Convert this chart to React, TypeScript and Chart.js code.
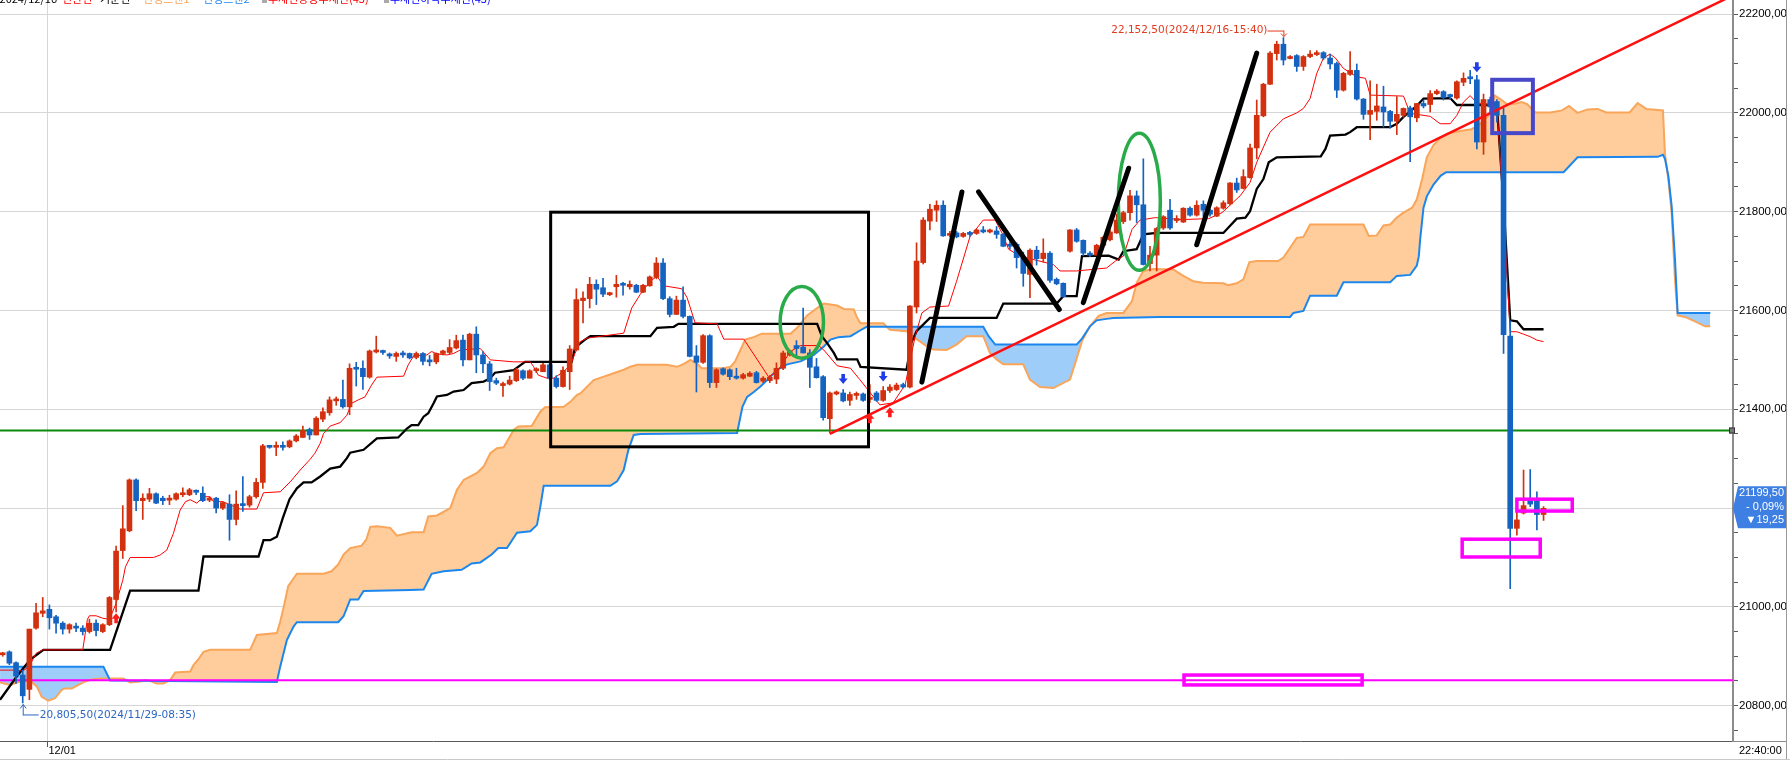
import React, { useEffect, useRef } from 'react';
import { Chart, registerables } from 'chart.js';

Chart.register(...registerables);

// ---------- candle data (index = bar number) ----------
const OPEN = [
  20903,20909,20887,20862,20833,20957,20987,20995,20980,20967,
  20955,20960,20957,20950,20967,20950,20964,21015,21114,21154,
  21257,21215,21218,21229,21220,21216,21218,21227,21227,21234,
  21230,21216,21220,21200,21208,21177,21208,21206,21223,21252,
  21326,21323,21326,21324,21336,21343,21359,21348,21380,21393,
  21417,21420,21405,21483,21483,21465,21516,21518,21512,21507,
  21513,21513,21505,21513,21499,21496,21513,21515,21524,21540,
  21500,21552,21510,21492,21458,21448,21451,21458,21478,21463,
  21478,21476,21490,21463,21446,21476,21520,21620,21624,21653,
  21646,21632,21648,21655,21648,21651,21637,21650,21667,21696,
  21624,21592,21621,21588,21508,21495,21549,21454,21482,21480,
  21467,21463,21467,21474,21457,21458,21461,21483,21510,21529,
  21526,21514,21486,21466,21381,21431,21433,21418,21428,21431,
  21420,21433,21418,21438,21440,21450,21445,21607,21697,21781,
  21803,21813,21752,21757,21750,21756,21756,21763,21759,21761,
  21754,21734,21734,21707,21673,21722,21705,21716,21663,21655,
  21720,21763,21742,21716,21712,21732,21743,21757,21780,21798,
  21832,21814,21695,21712,21767,21803,21782,21779,21807,21793,
  21815,21803,21791,21807,21816,21858,21847,21869,21929,21994,
  22058,22120,22139,22110,22116,22094,22114,22118,22122,22111,
  22100,22046,22078,22086,22028,21997,22003,22012,22003,21983,
  21995,22010,21990,22019,22017,22039,22043,22035,22030,22062,
  22071,22067,21941,22027,22023,21995,21548,21159,21190,21215,
  21215,21187,
];
const HIGH = [
  20908,20911,20889,20872,20955,21007,21019,21004,20983,20970,
  20966,20967,20962,20975,20974,20966,21021,21123,21205,21259,
  21259,21229,21240,21231,21224,21226,21231,21241,21240,21237,
  21243,21222,21222,21213,21227,21235,21264,21226,21260,21329,
  21327,21334,21334,21338,21349,21366,21362,21385,21403,21425,
  21425,21459,21492,21495,21498,21520,21548,21520,21514,21516,
  21518,21514,21516,21515,21509,21514,21520,21541,21550,21550,
  21554,21567,21517,21497,21463,21455,21467,21483,21480,21480,
  21484,21493,21493,21468,21486,21529,21644,21638,21667,21662,
  21665,21637,21671,21657,21660,21653,21653,21670,21707,21705,
  21628,21629,21648,21589,21529,21551,21551,21482,21484,21482,
  21483,21473,21476,21477,21466,21468,21494,21518,21520,21539,
  21605,21521,21503,21468,21435,21437,21440,21435,21435,21433,
  21450,21436,21446,21450,21453,21453,21610,21737,21788,21815,
  21822,21822,21760,21760,21758,21760,21765,21770,21765,21770,
  21756,21739,21737,21718,21725,21730,21745,21719,21666,21656,
  21764,21766,21743,21719,21734,21750,21764,21795,21801,21843,
  21842,21907,21730,21768,21792,21825,21792,21808,21810,21822,
  21822,21806,21810,21822,21859,21868,21885,21937,22026,22060,
  22124,22145,22152.5,22116,22118,22116,22126,22126,22124,22119,
  22103,22082,22124,22099,22029,22065,22058,22054,22005,22033,
  22010,22014,22019,22026,22045,22047,22045,22038,22065,22081,
  22086,22076,22038,22032,22027,22010,21579,21193,21277,21278,
  21233,21203,
];
const LOW = [
  20900,20883,20845,20805.5,20812,20955,20980,20955,20947,20945,
  20947,20950,20943,20947,20941,20948,20962,20990,21098,21152,
  21195,21177,21213,21209,21207,21207,21216,21223,21225,21227,
  21213,21213,21190,21197,21135,21166,21193,21202,21220,21240,
  21321,21306,21317,21322,21334,21343,21339,21348,21375,21388,
  21408,21402,21389,21447,21440,21463,21514,21511,21503,21497,
  21505,21502,21502,21490,21488,21492,21510,21512,21522,21488,
  21500,21474,21474,21438,21450,21426,21449,21456,21460,21463,
  21474,21476,21460,21443,21445,21440,21520,21575,21605,21612,
  21628,21630,21627,21631,21643,21636,21636,21649,21664,21622,
  21587,21592,21585,21506,21435,21493,21444,21444,21469,21460,
  21461,21461,21466,21453,21454,21454,21452,21480,21508,21508,
  21514,21444,21463,21378,21352,21429,21415,21408,21420,21416,
  21414,21416,21416,21434,21438,21443,21443,21595,21694,21763,
  21780,21750,21749,21747,21748,21750,21754,21757,21757,21746,
  21729,21724,21686,21649,21626,21692,21698,21657,21652,21626,
  21718,21738,21711,21709,21711,21730,21741,21756,21776,21783,
  21778,21692,21680,21680,21764,21764,21778,21778,21791,21791,
  21791,21791,21790,21805,21814,21839,21846,21868,21907,21992,
  22057,22107,22097,22109,22084,22086,22112,22116,22108,22089,
  22031,22044,22076,22026,21987,21946,21985,21971,21969,21956,
  21991,21901,21982,22010,22002,22037,22026,22028,22028,22055,
  22059,21927,21916,22000,21981,21513,21037,21145,21188,21203,
  21156,21175,
];
const CLOSE = [
  20906,20886,20860,20820,20955,20988,20992,20978,20967,20955,
  20964,20957,20950,20967,20952,20964,21019,21113,21158,21257,
  21215,21220,21229,21210,21215,21219,21229,21230,21237,21232,
  21215,21219,21200,21211,21177,21208,21205,21223,21252,21326,
  21323,21326,21323,21336,21346,21357,21348,21382,21395,21419,
  21420,21405,21483,21481,21466,21518,21518,21515,21508,21513,
  21510,21504,21513,21497,21496,21513,21518,21525,21539,21500,
  21552,21510,21492,21456,21453,21452,21459,21480,21463,21478,
  21481,21490,21463,21446,21479,21522,21622,21625,21653,21643,
  21633,21636,21653,21651,21653,21637,21651,21668,21696,21624,
  21592,21621,21588,21507,21495,21549,21454,21480,21471,21466,
  21463,21470,21473,21454,21463,21465,21483,21514,21517,21523,
  21514,21485,21464,21383,21433,21435,21417,21430,21431,21418,
  21424,21418,21438,21445,21449,21445,21609,21700,21783,21805,
  21813,21751,21755,21749,21756,21754,21763,21759,21762,21754,
  21730,21730,21707,21675,21722,21705,21716,21661,21654,21628,
  21763,21740,21716,21712,21732,21748,21759,21783,21798,21832,
  21814,21693,21712,21766,21790,21767,21786,21807,21793,21813,
  21803,21795,21808,21818,21858,21844,21871,21929,21995,22058,
  22121,22139,22107,22114,22094,22114,22119,22122,22111,22099,
  22046,22080,22086,22028,21997,22005,22014,22002,21983,21997,
  22009,21992,22019,22014,22039,22044,22031,22033,22063,22070,
  22069,21941,22027,22012,21995,21551,21159,21176,21205,21208,
  21187,21199.5,
];

// ---------- Ichimoku lines, read as [bar index, price] vertices ----------
const TENKAN: [number, number][] = [
  [-0.4,20872],[2,20872],[3,20870],[4,20880],[5,20906],[6,20913],[12,20913],[12.7,20975],[13,20982],[14,20982],
  [15,20977],[16,20975],[17,21007],[18,21054],[18.4,21081],[19.1,21100],[22.6,21100],[23.6,21105],[24.6,21115],
  [25.6,21149],[26.6,21196],[27.4,21213],[28.1,21217],[29.1,21210],[30.1,21223],[31.1,21223],[31.6,21213],[33,21213],
  [35.6,21198],[38.1,21198],[39.1,21231],[41.6,21233],[43.1,21253],[44.6,21277],[46.1,21299],[46.8,21311],[47.6,21331],
  [48.1,21351],[49.1,21366],[50.6,21373],[51.6,21388],[52.3,21412],[53.3,21419],[54.3,21425],[55.3,21449],[56.1,21465],
  [60.1,21467],[60.8,21490],[61.6,21508],[63.6,21510],[64.3,21517],[65.1,21512],[66.6,21510],[67.6,21513],[68.6,21520],
  [71.6,21523],[73.1,21500],[76.6,21496],[79.1,21496],[79.6,21486],[80.3,21469],[81.6,21463],[82.6,21463],[84.1,21476],
  [85.1,21490],[85.8,21513],[86.6,21537],[87.6,21544],[93.1,21554],[94.3,21605],[95.6,21633],[97.1,21660],[98.1,21669],
  [99.1,21650],[101.8,21644],[102.6,21626],[103.8,21575],[107.1,21573],[108.1,21542],[111.1,21542],[114.8,21466],
  [116.1,21476],[118.1,21517],[119.6,21529],[122.3,21529],[123.1,21520],[125.1,21488],[127.1,21483],[128.5,21460],
  [131.5,21409],[133.5,21413],[135.3,21450],[136.8,21548],[137.8,21595],[139,21607],[141.8,21609],[143,21659],
  [145,21749],[147,21783],[148.8,21783],[149.8,21757],[150.8,21724],[152.5,21710],[157.5,21693],[158.5,21680],
  [161,21680],[165.5,21686],[166.8,21700],[168,21710],[169.3,21764],[170.5,21783],[172.8,21788],[176.8,21784],
  [180.8,21786],[182.8,21798],[185.5,21832],[187,21859],[188,21900],[190,21961],[192,21988],[194,22000],[195,22009],
  [196,22029],[197,22080],[198,22111],[199,22119],[199.8,22111],[201,22090],[203,22073],[204.3,22070],[205,22036],
  [210,22034],[211,21999],[214,21993],[215.5,21978],[217,21978],[218,21995],[219,22022],[220,22035],[221,22020],
  [224,22016],[225,21800],[226,21557],[227,21557],[228,21552],[229,21547],[230,21540],[231,21537],
];
const KIJUN: [number, number][] = [
  [-0.4,20812],[2.1,20859],[4.1,20893],[5.1,20903],[6.1,20913],[16.1,20913],[19.1,21033],[29.35,21033],[30.1,21102],
  [38.35,21102],[39.1,21135],[40.1,21135],[41.1,21142],[42,21180],[43,21218],[44.1,21240],[45.1,21252],[46.3,21252],
  [47.6,21264],[49.1,21280],[50.6,21284],[51.6,21301],[52.1,21312],[54.1,21318],[56.1,21341],[59.3,21343],[60.6,21361],
  [61.3,21368],[62.3,21368],[63.1,21385],[63.8,21392],[64.6,21412],[65.1,21426],[66.6,21429],[67.6,21436],[69.1,21439],
  [70.3,21453],[72.1,21456],[73.1,21463],[73.8,21474],[76.6,21479],[78.3,21496],[85.3,21496],[85.8,21525],[87.3,21541],
  [88.1,21548],[97.1,21548],[98.1,21565],[100.6,21567],[101.3,21573],[122.1,21573],[122.8,21548],[123.6,21534],
  [124.6,21514],[125.1,21501],[128.1,21501],[128.6,21486],[135.5,21480],[136.2,21534],[137,21558],[139,21585],
  [149,21585],[150,21614],[158,21614],[159,21629],[161,21629],[161.8,21710],[165.8,21711],[167.3,21703],[168,21720],
  [170,21724],[171,21754],[173,21757],[183,21757],[185,21786],[186.3,21788],[187,21801],[188,21846],[189,21866],
  [189.8,21900],[191,21910],[197.6,21912],[198.3,21927],[199,21954],[201.3,21956],[202,21961],[203,21971],[208,21971],
  [209,21978],[210,21992],[212,22014],[213,22029],[217,22030],[218,22016],[224,22016],[225,21818],[226,21580],
  [227,21578],[228,21562],[231,21562],
];
const SPAN_A: [number, number][] = [
  [-0.4,20847],[1.1,20842],[2.6,20849],[4.1,20851],[5.1,20839],[5.85,20818],[6.85,20810],[7.85,20815],[8.85,20832],
  [9.35,20835],[10.35,20835],[11.35,20842],[12.35,20849],[13.35,20853],[14.6,20855],[18.1,20855],[19.1,20847],
  [20.6,20849],[21.35,20852],[22.35,20849],[23.1,20845],[24.1,20845],[25.1,20852],[25.85,20867],[28.1,20869],
  [28.6,20882],[29.35,20894],[30.1,20909],[31.1,20913],[37.1,20913],[38.1,20943],[41.1,20947],[41.6,20970],
  [42.1,20998],[42.8,21042],[44.1,21067],[48.1,21067],[49.3,21072],[50.3,21086],[51.1,21106],[52.1,21119],
  [53.8,21124],[54.5,21136],[55.1,21162],[56.1,21163],[58.1,21160],[59.1,21144],[61.3,21151],[63.1,21151],
  [63.8,21183],[65.1,21185],[67.1,21200],[68.1,21237],[69.1,21257],[71.1,21271],[72.1,21284],[73.1,21311],
  [74.1,21321],[75.1,21323],[76.6,21358],[77.3,21365],[79.3,21366],[80.6,21395],[81.3,21404],[84.1,21405],
  [85.1,21415],[86.1,21429],[86.6,21432],[88.6,21459],[90.1,21466],[91.6,21473],[93.1,21480],[94.1,21486],
  [95.1,21490],[99.5,21490],[101.1,21486],[102.1,21492],[103.1,21500],[104.1,21492],[104.8,21483],[108.1,21483],
  [109.1,21486],[109.8,21497],[110.6,21520],[111.3,21541],[112.6,21546],[113.8,21553],[118.1,21553],[119.1,21565],
  [120.6,21590],[122.1,21605],[123.1,21614],[125.1,21610],[126.1,21603],[127.6,21602],[128.1,21585],[128.6,21574],
  [132,21574],[133,21561],[135.5,21558],[136.7,21545],[138.5,21528],[139.5,21521],[141.5,21520],[143,21531],
  [144.5,21548],[147,21548],[148,21514],[149,21501],[150,21491],[153,21491],[154,21460],[155.5,21445],[157.5,21443],
  [160,21460],[160.8,21494],[161.8,21538],[163,21568],[164.3,21589],[165.5,21595],[168,21595],[169.3,21619],
  [170,21656],[171,21680],[172.5,21684],[175.5,21683],[177,21670],[178.5,21659],[180,21656],[183,21655],
  [183.7,21651],[185,21655],[186,21663],[186.9,21698],[188,21700],[191.2,21700],[192,21707],[193,21727],[194,21747],
  [195,21749],[196,21774],[204,21774],[204.8,21751],[206,21752],[207,21772],[208,21774],[209,21788],[210,21798],
  [211.3,21808],[212,21825],[212.8,21866],[213.5,21910],[214.5,21935],[215.6,21950],[216.6,21958],[218.7,21964],
  [220.2,21967],[221.2,21974],[222.8,21995],[223.7,22035],[224.5,22028],[225.5,22018],[226.5,22018],[227.7,22022],
  [228.5,22018],[229.8,22001],[232,22001],[233.8,22005],[234.8,22014],[236.1,22000],[237.6,22007],[239.1,22008],
  [240.4,22001],[243.9,22001],[245.1,22020],[246.4,22008],[248.9,22005],[249.2,21917],[249.7,21866],[250.2,21798],
  [250.7,21663],[251.1,21590],[252.2,21587],[253.7,21578],[255.2,21568],[256,21568],
];
const SPAN_B: [number, number][] = [
  [-0.4,20879],[15.1,20879],[16.1,20851],[41.1,20848],[41.6,20879],[42.6,20933],[43.6,20960],[44.1,20969],
  [50.3,20969],[51.1,20981],[52.1,21015],[53.3,21015],[54.1,21032],[61.1,21034],[63.1,21035],[64.3,21067],
  [66.1,21072],[68.8,21075],[70.3,21088],[71.6,21090],[73.3,21106],[74.3,21119],[75.6,21119],[77.1,21150],
  [79.1,21153],[80.1,21166],[80.6,21203],[81.1,21245],[91.1,21245],[92.1,21254],[93.1,21277],[93.8,21318],
  [94.6,21348],[95.6,21350],[110.1,21352],[110.9,21405],[111.6,21425],[112.6,21435],[113.6,21446],[114.6,21459],
  [116.1,21480],[117.6,21491],[119.6,21497],[121.6,21510],[123.1,21527],[124.1,21541],[125.3,21546],[127.1,21548],
  [128.6,21560],[129.5,21567],[147,21567],[147.8,21548],[148.8,21531],[161,21531],[161.8,21543],[163,21568],
  [164,21580],[165.5,21583],[166.5,21585],[173.5,21587],[193,21587],[193.5,21595],[195,21599],[196,21630],
  [200,21630],[201,21657],[208,21657],[209,21670],[211,21672],[212,21691],[212.3,21710],[212.5,21744],[213,21808],
  [213.5,21831],[214.5,21855],[215.6,21873],[216.4,21880],[234,21880],[236.1,21910],[248.1,21911],[248.9,21915],
  [249.2,21907],[249.7,21873],[250.2,21812],[250.7,21704],[251.1,21595],[256,21595],
];

// ---------- axes ----------
const X_MIN = -0.405;
const X_MAX = 259.4;
const Y_MIN = 20728.5;
const Y_MAX = 22228.5;
const Y_LABELLED_TICKS = [20800, 21000, 21200, 21400, 21600, 21800, 22000, 22200];
const Y_MINOR_STEP = 50;
const DATE_TICK_IDX = 6.7;
const DATE_TICK_LABEL = '12/01';
const TIME_LABEL = '22:40:00';

// ---------- drawings / markers ----------
const SUPPORT_LEVEL = 21357;
const FLOOR_LEVEL = 20851.5;
const LOW_MARK = { idx: 3, price: 20805.5, text: '20,805,50(2024/11/29-08:35)' };
const HIGH_MARK = { idx: 192, price: 22152.5, text: '22,152,50(2024/12/16-15:40)' };
const LAST_PRICE = 21199.5;
const LAST_LABELS = ['21199,50', '- 0,09%', '▼19,25'];
const SELL_ARROWS: [number, number][] = [[126, 21451], [132, 21456], [221, 22082]];
const BUY_ARROWS: [number, number][] = [[17, 20987], [130, 21392], [133, 21404]];
const BOX_RANGE: [number, number, number, number] = [82.15, 21799, 129.8, 21324];
const ELLIPSES: [number, number, number, number][] = [[119.8, 21576, 3.25, 72.5], [170.4, 21820, 3.15, 138.7]];
const STROKES: [number, number, number, number][] = [
  [137.8, 21455, 143.8, 21840],
  [146.3, 21840, 158.4, 21602],
  [162.0, 21616, 168.8, 21888],
  [179.0, 21733, 188.0, 22121],
];
const TREND: [number, number, number, number] = [124, 21350, 259.4, 22238];
const FOCUS_SQUARE: [number, number, number, number] = [223.3, 22067, 229.4, 21959];
const MAGENTA_BOXES: [number, number, number, number][] = [
  [218.8, 21137, 230.5, 21101],
  [227.0, 21218, 235.3, 21194],
  [177.1, 20862, 203.8, 20842],
];
const LEGEND_ITEMS = [
  { text: '2024/12/16', color: '#000000', x: 57, align: 'right', box: false },
  { text: '전환선', color: '#ff0000', x: 62, align: 'left', box: false },
  { text: '기준선', color: '#000000', x: 100, align: 'left', box: false },
  { text: '선행스팬1', color: '#f7a35c', x: 143, align: 'left', box: false },
  { text: '선행스팬2', color: '#1e88f0', x: 203, align: 'left', box: false },
  { text: '추세선상승추세선(45)', color: '#ff0000', x: 268, align: 'left', box: true },
  { text: '추세선하락추세선(45)', color: '#0000ff', x: 390, align: 'left', box: true },
];

const UP_COLOR = '#d2300e';
const DOWN_COLOR = '#1563c0';

function seg(ctx: CanvasRenderingContext2D, x1: number, y1: number, x2: number, y2: number) {
  ctx.beginPath();
  ctx.moveTo(x1, y1);
  ctx.lineTo(x2, y2);
  ctx.stroke();
}

function blockArrow(ctx: CanvasRenderingContext2D, cx: number, tipY: number, dir: number, color: string) {
  // dir = 1 : pointing down (tip at bottom); dir = -1 : pointing up
  ctx.fillStyle = color;
  ctx.beginPath();
  ctx.moveTo(cx - 1.8, tipY - dir * 10);
  ctx.lineTo(cx + 1.8, tipY - dir * 10);
  ctx.lineTo(cx + 1.8, tipY - dir * 5.5);
  ctx.lineTo(cx + 4.5, tipY - dir * 5.5);
  ctx.lineTo(cx, tipY);
  ctx.lineTo(cx - 4.5, tipY - dir * 5.5);
  ctx.lineTo(cx - 1.8, tipY - dir * 5.5);
  ctx.closePath();
  ctx.fill();
}

const drawingsPlugin = {
  id: 'drawings',
  afterDatasetDraw(chart: any, args: any) {
    if (args.index !== 1) return;
    const { ctx, chartArea: a } = chart;
    const py = (v: number) => chart.scales.y.getPixelForValue(v);
    ctx.save();
    ctx.beginPath();
    ctx.rect(a.left, a.top, a.right - a.left, a.bottom - a.top);
    ctx.clip();
    ctx.lineWidth = 2;
    ctx.strokeStyle = '#0c8a0c';
    seg(ctx, a.left, py(SUPPORT_LEVEL), a.right, py(SUPPORT_LEVEL));
    ctx.strokeStyle = '#ff00ff';
    seg(ctx, a.left, py(FLOOR_LEVEL), a.right, py(FLOOR_LEVEL));
    ctx.restore();
  },
  afterDatasetsDraw(chart: any) {
    const { ctx, chartArea: a } = chart;
    const px = (v: number) => chart.scales.x.getPixelForValue(v);
    const py = (v: number) => chart.scales.y.getPixelForValue(v);
    ctx.save();
    ctx.beginPath();
    ctx.rect(a.left, a.top, a.right - a.left, a.bottom - a.top);
    ctx.clip();

    // black rectangle
    ctx.strokeStyle = '#000';
    ctx.lineWidth = 3;
    ctx.strokeRect(px(BOX_RANGE[0]), py(BOX_RANGE[1]), px(BOX_RANGE[2]) - px(BOX_RANGE[0]), py(BOX_RANGE[3]) - py(BOX_RANGE[1]));

    // green ellipses
    ctx.strokeStyle = '#29ab49';
    ctx.lineWidth = 3.5;
    ELLIPSES.forEach(([cx, cy, rx, ry]) => {
      const X = px(cx), Y = py(cy);
      const RX = Math.abs(px(cx + rx) - X), RY = Math.abs(py(cy + ry) - Y);
      ctx.beginPath();
      ctx.ellipse(X, Y, RX, RY, 0, 0, Math.PI * 2);
      ctx.stroke();
    });

    // black hand-drawn strokes
    ctx.strokeStyle = '#000';
    ctx.lineWidth = 5;
    ctx.lineCap = 'round';
    STROKES.forEach(([x1, y1, x2, y2]) => seg(ctx, px(x1), py(y1), px(x2), py(y2)));
    ctx.lineCap = 'butt';

    // red rising trend line
    ctx.strokeStyle = '#ff1010';
    ctx.lineWidth = 2.5;
    seg(ctx, px(TREND[0]), py(TREND[1]), px(TREND[2]), py(TREND[3]));

    // blue focus square
    ctx.strokeStyle = '#4747c9';
    ctx.lineWidth = 4;
    ctx.strokeRect(px(FOCUS_SQUARE[0]), py(FOCUS_SQUARE[1]), px(FOCUS_SQUARE[2]) - px(FOCUS_SQUARE[0]), py(FOCUS_SQUARE[3]) - py(FOCUS_SQUARE[1]));

    // magenta boxes
    ctx.strokeStyle = '#ff00ff';
    ctx.lineWidth = 3.5;
    MAGENTA_BOXES.forEach(([x1, y1, x2, y2]) => {
      ctx.strokeRect(px(x1), py(y1), px(x2) - px(x1), py(y2) - py(y1));
    });

    // signal arrows
    SELL_ARROWS.forEach(([i, p]) => blockArrow(ctx, px(i), py(p), 1, '#1f3de8'));
    BUY_ARROWS.forEach(([i, p]) => blockArrow(ctx, px(i), py(p), -1, '#ff1a1a'));

    // low mark
    {
      const x = px(LOW_MARK.idx), y = py(LOW_MARK.price) + 1.5;
      ctx.strokeStyle = '#2b66c2';
      ctx.lineWidth = 1;
      seg(ctx, x + 0.5, y, x + 0.5, y + 11);
      seg(ctx, x + 0.5, y + 10.5, x + 16, y + 10.5);
      ctx.beginPath();
      ctx.moveTo(x - 2.5, y + 4);
      ctx.lineTo(x + 0.5, y);
      ctx.lineTo(x + 3.5, y + 4);
      ctx.stroke();
      ctx.fillStyle = '#2b66c2';
      ctx.font = '10.5px "DejaVu Sans"';
      ctx.textAlign = 'left';
      ctx.textBaseline = 'middle';
      ctx.fillText(LOW_MARK.text, x + 17, y + 11);
    }
    // high mark
    {
      const x = px(HIGH_MARK.idx), y = py(HIGH_MARK.price) - 1;
      const ly = y - 6;
      ctx.strokeStyle = '#e23a1e';
      ctx.lineWidth = 1;
      seg(ctx, x - 16, ly + 0.5, x + 0.5, ly + 0.5);
      seg(ctx, x + 0.5, ly, x + 0.5, y);
      ctx.beginPath();
      ctx.moveTo(x - 2.5, y - 3);
      ctx.lineTo(x + 0.5, y);
      ctx.lineTo(x + 3.5, y - 3);
      ctx.stroke();
      ctx.fillStyle = '#e23a1e';
      ctx.font = '10.5px "DejaVu Sans"';
      ctx.textAlign = 'right';
      ctx.textBaseline = 'middle';
      ctx.fillText(HIGH_MARK.text, x - 16, ly);
    }
    ctx.restore();
  },
  afterDraw(chart: any) {
    const { ctx, chartArea: a } = chart;
    const px = (v: number) => chart.scales.x.getPixelForValue(v);
    const py = (v: number) => chart.scales.y.getPixelForValue(v);
    ctx.save();

    // legend row (cut at the top edge: only the lower part of the glyphs shows)
    ctx.font = '11px "Noto Sans CJK KR"';
    ctx.textBaseline = 'alphabetic';
    LEGEND_ITEMS.forEach((it) => {
      if (it.box) {
        ctx.fillStyle = '#aaaaaa';
        ctx.fillRect(it.x - 6, 0, 5, 3);
      }
      ctx.fillStyle = it.color;
      ctx.textAlign = it.align as CanvasTextAlign;
      ctx.fillText(it.text, it.x, 3);
    });

    // green level end marker on axis
    {
      const y = py(SUPPORT_LEVEL);
      ctx.fillStyle = '#7a7a7a';
      ctx.strokeStyle = '#333';
      ctx.lineWidth = 1;
      ctx.fillRect(a.right - 4, y - 3, 6, 6);
      ctx.strokeRect(a.right - 4 + 0.5, y - 3 + 0.5, 5, 5);
    }

    // last price box
    {
      const y = py(LAST_PRICE);
      const l = a.right, r = 1786;
      ctx.fillStyle = '#3e7fe3';
      ctx.beginPath();
      ctx.moveTo(l, y);
      ctx.lineTo(l + 5, y - 22);
      ctx.lineTo(r, y - 22);
      ctx.lineTo(r, y + 20);
      ctx.lineTo(l + 5, y + 20);
      ctx.closePath();
      ctx.fill();
      ctx.fillStyle = '#ffffff';
      ctx.font = '11px "Liberation Sans"';
      ctx.textAlign = 'right';
      ctx.textBaseline = 'middle';
      LAST_LABELS.forEach((t, k) => ctx.fillText(t, r - 2, y - 15 + k * 13.5));
    }

    // x labels
    ctx.fillStyle = '#000';
    ctx.font = '11px "Liberation Sans"';
    ctx.textBaseline = 'middle';
    ctx.textAlign = 'left';
    ctx.fillText(DATE_TICK_LABEL, px(DATE_TICK_IDX) + 1, 751);
    ctx.fillText(TIME_LABEL, a.right + 6, 751);

    // frame lines
    ctx.strokeStyle = '#9a9a9a';
    ctx.lineWidth = 1;
    seg(ctx, 1786.5, 0, 1786.5, 760);
    ctx.strokeStyle = '#c8c8c8';
    seg(ctx, 0, 759.5, 1790, 759.5);
    ctx.strokeStyle = '#8c8c8c';
    seg(ctx, a.right, 741.5, 1786, 741.5);
    ctx.restore();
  },
};

export default function App() {
  const ref = useRef<HTMLCanvasElement>(null);
  useEffect(() => {
    const canvas = ref.current;
    if (!canvas) return;
    const idx = OPEN.map((_, i) => i);
    const colors = idx.map((i) => (CLOSE[i] >= OPEN[i] ? UP_COLOR : DOWN_COLOR));
    const yTicks: number[] = [];
    for (let v = Y_LABELLED_TICKS[0] - Y_MINOR_STEP; v <= Y_LABELLED_TICKS[Y_LABELLED_TICKS.length - 1]; v += Y_MINOR_STEP) yTicks.push(v);
    const toXY = (arr: [number, number][]) => arr.map(([x, y]) => ({ x, y }));

    const chart = new Chart(canvas, {
      type: 'bar',
      data: {
        datasets: [
          {
            type: 'line', label: 'spanA', data: toXY(SPAN_A) as any,
            borderColor: '#f9a55a', borderWidth: 2, pointRadius: 0, pointHoverRadius: 0,
            fill: { target: '+1', above: '#fecd9b', below: '#9fcdfa' } as any, order: 20,
          },
          {
            type: 'line', label: 'spanB', data: toXY(SPAN_B) as any,
            borderColor: '#1b87ee', borderWidth: 2, pointRadius: 0, pointHoverRadius: 0, fill: false, order: 19,
          },
          {
            type: 'line', label: 'kijun', data: toXY(KIJUN) as any,
            borderColor: '#000000', borderWidth: 2.3, pointRadius: 0, pointHoverRadius: 0, fill: false, order: 10,
          },
          {
            type: 'line', label: 'tenkan', data: toXY(TENKAN) as any,
            borderColor: '#ff0000', borderWidth: 1, pointRadius: 0, pointHoverRadius: 0, fill: false, order: 9,
          },
          {
            type: 'bar', label: 'wick', data: idx.map((i) => ({ x: i, y: [LOW[i], HIGH[i]] })) as any,
            backgroundColor: colors, borderWidth: 0, barThickness: 1, grouped: false, order: 2,
          } as any,
          {
            type: 'bar', label: 'body',
            data: idx.map((i) => ({ x: i, y: [Math.min(OPEN[i], CLOSE[i]), Math.max(OPEN[i], CLOSE[i])] })) as any,
            backgroundColor: colors, borderWidth: 0, barThickness: 5, minBarLength: 2, grouped: false, order: 1,
          } as any,
        ],
      },
      options: {
        animation: false,
        responsive: false,
        devicePixelRatio: 1,
        events: [],
        layout: { padding: 0 },
        plugins: {
          legend: { display: false },
          tooltip: { enabled: false },
          filler: { propagate: false },
        },
        scales: {
          x: {
            type: 'linear', min: X_MIN, max: X_MAX, offset: false,
            afterBuildTicks: (s: any) => { s.ticks = [{ value: DATE_TICK_IDX }]; },
            afterFit: (s: any) => { s.height = 19; s.paddingLeft = 0; s.paddingRight = 0; },
            ticks: { display: false },
            grid: { color: '#d6d6d6', lineWidth: 1, drawTicks: true, tickLength: 6, tickColor: '#555', offset: false },
            border: { display: true, color: '#5a5a5a', width: 1 },
          },
          y: {
            type: 'linear', position: 'right', min: Y_MIN, max: Y_MAX,
            afterBuildTicks: (s: any) => { s.ticks = yTicks.map((v) => ({ value: v })); },
            afterFit: (s: any) => { s.width = 57; s.paddingTop = 0; s.paddingBottom = 0; },
            ticks: {
              autoSkip: false, padding: 1, color: '#000',
              font: { family: 'Liberation Sans', size: 11.5 },
              callback: (v: any) => (Y_LABELLED_TICKS.includes(Number(v)) ? `${v},00` : ''),
            },
            grid: {
              color: (c: any) => (c.tick && Y_LABELLED_TICKS.includes(c.tick.value) ? '#d6d6d6' : 'rgba(0,0,0,0)'),
              tickColor: '#5a5a5a', tickLength: 5, drawTicks: true, lineWidth: 1,
            },
            border: { display: true, color: '#8c8c8c', width: 2 },
          },
        },
      } as any,
      plugins: [drawingsPlugin],
    });
    return () => chart.destroy();
  }, []);

  return (
    <div style={{ position: 'fixed', left: 0, top: 0, width: 1790, height: 760, background: '#ffffff' }}>
      <canvas ref={ref} width={1790} height={760} style={{ display: 'block', width: 1790, height: 760 }} />
    </div>
  );
}
